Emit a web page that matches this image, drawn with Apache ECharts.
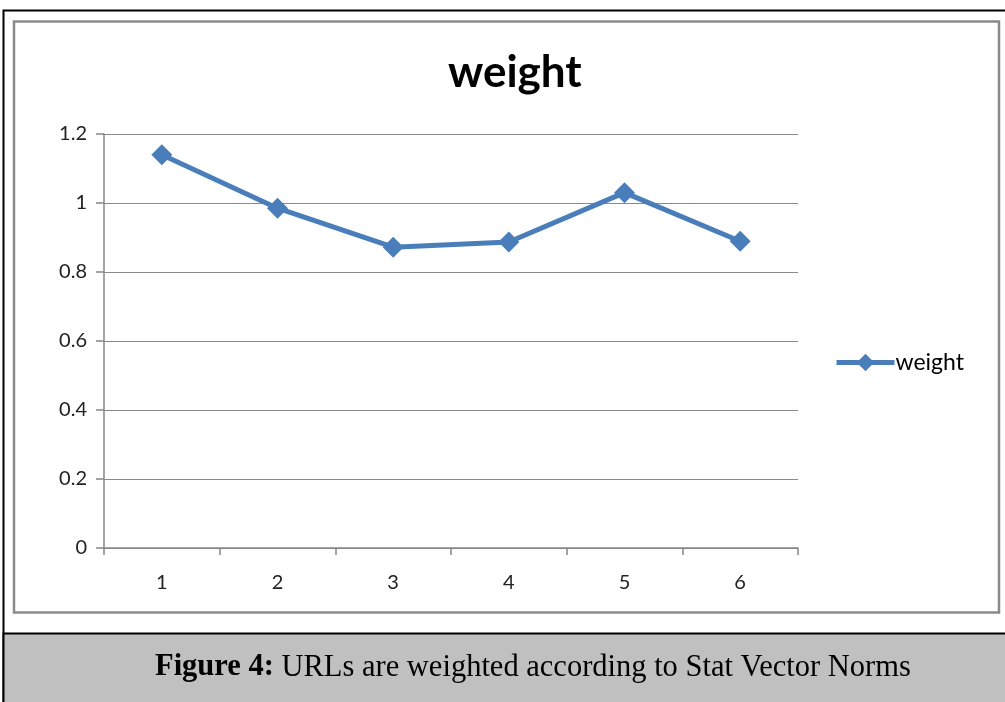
<!DOCTYPE html>
<html><head><meta charset="utf-8">
<script src="https://cdn.jsdelivr.net/npm/echarts@6/dist/echarts.min.js"></script>
<style>html,body{margin:0;padding:0;background:#fff}#c{width:1005px;height:702px}</style>
</head><body><div id="c"></div>
<script>
const categories = ['1','2','3','4','5','6'];
const weightValues = [1.14, 0.985, 0.872, 0.887, 1.03, 0.889];
const seriesName = 'weight';
const chartTitle = 'weight';
const captionBold = 'Figure 4:';
const captionText = ' URLs are weighted according to Stat Vector Norms';

const chart = echarts.init(document.getElementById('c'));
chart.setOption({
  animation: false,
  backgroundColor: '#fff',
  graphic: [
    {type:'rect', shape:{x:3.5,y:10.5,width:1010,height:700}, style:{fill:'none',stroke:'#000',lineWidth:2}, z:0},
    {type:'rect', shape:{x:14,y:21.5,width:985,height:591}, style:{fill:'#fff',stroke:'#8a8a8a',lineWidth:2.5}, z:0},
    {type:'rect', shape:{x:3.5,y:633.5,width:1010,height:80}, style:{fill:'#c0c0c0',stroke:'#000',lineWidth:2}, z:0}
  ],
  title: [
    {text: chartTitle, left: 443, top: 46,
     textStyle:{fontFamily:'Lato', fontWeight:'bold', fontSize:44, color:'#000'}},
    {text: '{b|' + captionBold + '}{n|' + captionText + '}', left: 150, top: 647,
     textStyle:{fontWeight:'normal', rich:{
       b:{fontFamily:'Liberation Serif', fontWeight:'bold', fontSize:30.5, color:'#000'},
       n:{fontFamily:'Liberation Serif', fontWeight:'normal', fontSize:30.5, color:'#000'}
     }}}
  ],
  legend: {
    data:[seriesName], left: 829, top: 346, orient:'vertical',
    itemWidth: 58, itemHeight: 22, itemGap: 4,
    lineStyle:{width:5},
    textStyle:{fontFamily:'Lato', fontSize:23, color:'#000', padding:[0,0,0,-4]}
  },
  grid: {left:104, top:134, width:694, height:414, containLabel:false},
  xAxis: {
    type:'category', data: categories, boundaryGap:true,
    axisLine:{lineStyle:{color:'#868686', width:1.5}},
    axisTick:{show:true, length:7, inside:false, lineStyle:{color:'#868686', width:1.5}},
    axisLabel:{fontFamily:'Lato', fontSize:20, color:'#222', margin:25}
  },
  yAxis: {
    type:'value', min:0, max:1.2, interval:0.2,
    axisLine:{show:true, lineStyle:{color:'#868686', width:1.5}},
    axisTick:{show:true, length:8, lineStyle:{color:'#868686', width:1.5}},
    axisLabel:{fontFamily:'Lato', fontSize:20, color:'#222', margin:17,
      formatter: v => String(Math.round(v*10)/10)},
    splitLine:{lineStyle:{color:'#8a8a8a', width:1.2}}
  },
  series: [{
    name: seriesName, type:'line', data: weightValues,
    symbol:'diamond', symbolSize:21,
    lineStyle:{color:'#4a7ebb', width:5},
    itemStyle:{color:'#4a7ebb'}
  }]
});
</script></body></html>
